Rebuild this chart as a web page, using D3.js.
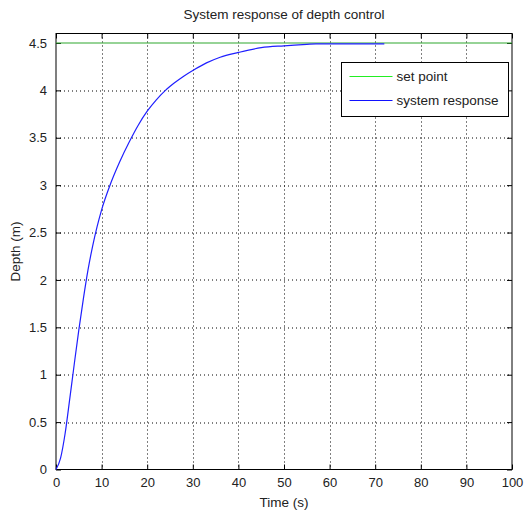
<!DOCTYPE html>
<html><head><meta charset="utf-8">
<script src="https://cdn.jsdelivr.net/npm/d3@7"></script>
<style>
html,body{margin:0;padding:0;background:#fff;}
text{font-family:"Liberation Sans",Arial,Helvetica,sans-serif;fill:#222;}
</style></head>
<body>
<svg id="c" width="529" height="518"></svg>
<script>
const timeValues = [0, 1, 2, 3, 4, 5, 6, 7, 8, 9, 10, 12, 14, 16, 18, 20, 22, 24, 26, 28, 30, 33, 36, 40, 45, 50, 55, 57, 60, 65, 72];
const depthValues = [0, 0.12, 0.38, 0.74, 1.11, 1.47, 1.80, 2.10, 2.35, 2.56, 2.74, 3.02, 3.25, 3.45, 3.63, 3.78, 3.90, 4.00, 4.08, 4.15, 4.21, 4.29, 4.35, 4.40, 4.45, 4.47, 4.485, 4.49, 4.49, 4.49, 4.49];
const setPointTimes = [0, 100];
const setPointValues = [4.5, 4.5];
const xTicks = [0,10,20,30,40,50,60,70,80,90,100];
const yTicks = [0,0.5,1,1.5,2,2.5,3,3.5,4,4.5];
const seriesNames = ["set point", "system response"];
const titleText = "System response of depth control";
const xLabel = "Time (s)";
const yLabel = "Depth (m)";

const svg = d3.select("#c");
const m = {left:56, top:33.5, right:17, bottom:48.5};
const W = 529 - m.left - m.right, H = 518 - m.top - m.bottom;
const x = d3.scaleLinear().domain([0,100]).range([0,W]);
const y = d3.scaleLinear().domain([0,4.6]).range([H,0]);
const g = svg.append("g").attr("transform",`translate(${m.left},${m.top})`);

// grid
g.append("g").selectAll("line").data(xTicks.slice(1,-1)).join("line")
  .attr("x1",d=>Math.round(x(d))+0.5).attr("x2",d=>Math.round(x(d))+0.5)
  .attr("y1",0).attr("y2",H).attr("stroke","#000").attr("stroke-dasharray","1,3");
g.append("g").selectAll("line").data(yTicks.slice(1,-1)).join("line")
  .attr("y1",d=>Math.round(y(d))+0.5).attr("y2",d=>Math.round(y(d))+0.5)
  .attr("x1",0).attr("x2",W).attr("stroke","#000").attr("stroke-dasharray","1,3");

// axes
const fmt = d3.format("");
const xb = g.append("g").attr("transform",`translate(0,${H})`)
  .call(d3.axisBottom(x).tickValues(xTicks).tickSize(-5).tickPadding(8).tickFormat(fmt));
const xt = g.append("g").call(d3.axisTop(x).tickValues(xTicks).tickSize(-5).tickFormat(""));
const yl = g.append("g").call(d3.axisLeft(y).tickValues(yTicks).tickSize(-5).tickPadding(9).tickFormat(fmt));
const yr = g.append("g").attr("transform",`translate(${W},0)`).call(d3.axisRight(y).tickValues(yTicks).tickSize(-5).tickFormat(""));
[xb,xt,yl,yr].forEach(a=>{
  a.select(".domain").remove();
  a.selectAll("line").attr("stroke","#000");
  a.selectAll("text").style("font-size","13px").attr("fill","#222").style("font-family","'Liberation Sans',Arial,sans-serif");
});
g.append("rect").attr("x",0).attr("y",0).attr("width",W).attr("height",H)
  .attr("fill","none").attr("stroke","#000").attr("stroke-width",1);

// lines
const spY = d => Math.round(y(d)) + 0.5;
g.append("path").datum(setPointTimes.map((t,i)=>[t,setPointValues[i]]))
  .attr("d",d3.line().x(d=>x(d[0])).y(d=>spY(d[1])))
  .attr("fill","none").attr("stroke","#2fa82f").attr("stroke-width",1.2);
g.append("path").datum(timeValues.map((t,i)=>[t,depthValues[i]]))
  .attr("d",d3.line().curve(d3.curveMonotoneX).x(d=>x(d[0])).y(d=>y(d[1])))
  .attr("fill","none").attr("stroke","#1f1fff").attr("stroke-width",1.2);

// title & labels
svg.append("text").attr("x",m.left+W/2).attr("y",19).attr("text-anchor","middle")
  .style("font-size","13.5px").text(titleText);
svg.append("text").attr("x",m.left+W/2).attr("y",507).attr("text-anchor","middle")
  .style("font-size","13.5px").text(xLabel);
svg.append("text").attr("transform",`translate(20,${m.top+H/2}) rotate(-90)`).attr("text-anchor","middle")
  .style("font-size","13.5px").text(yLabel);

// legend
const lg = svg.append("g").attr("transform","translate(341.5,62.5)");
lg.append("rect").attr("width",167).attr("height",54).attr("fill","#fff").attr("stroke","#000");
const legColors = ["#22ee22","#1111ff"];
seriesNames.forEach((n,i)=>{
  const yy = 14 + i*24;
  lg.append("line").attr("x1",8).attr("x2",51).attr("y1",yy).attr("y2",yy).attr("stroke",legColors[i]).attr("stroke-width",1.2);
  lg.append("text").attr("x",55).attr("y",yy+4.5).style("font-size","13.5px").text(n);
});
</script>
</body></html>
